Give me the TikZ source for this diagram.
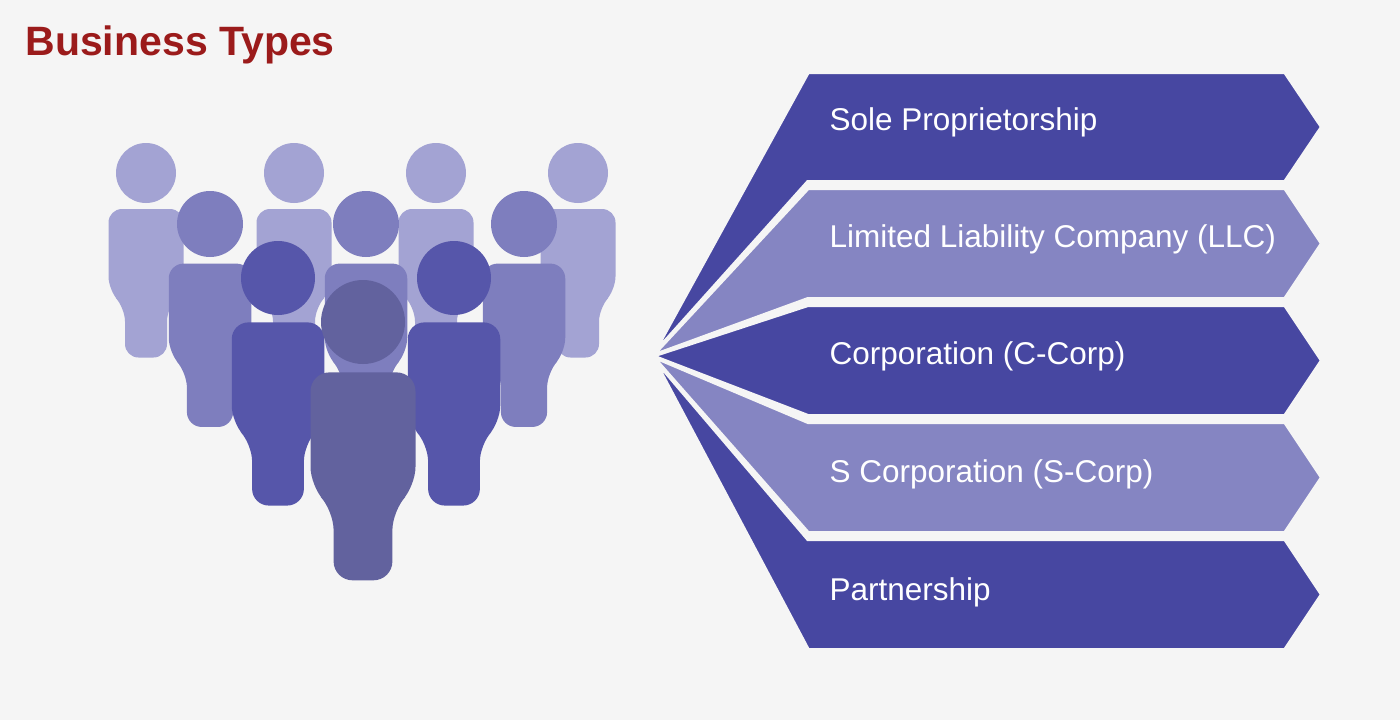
\documentclass[tikz,border=0pt]{standalone}
\usepackage{fontspec}
\setmainfont{Liberation Sans}
\usetikzlibrary{calc}
\definecolor{bgcol}{HTML}{F5F5F5}
\definecolor{titlecol}{HTML}{9B1B1B}
\definecolor{darkband}{HTML}{4747A1}
\definecolor{lightband}{HTML}{8585C2}
\definecolor{backp}{HTML}{A3A3D3}
\definecolor{midp}{HTML}{7E7EBE}
\definecolor{frontp}{HTML}{5656AA}
\definecolor{centp}{HTML}{62629E}

% person: x, head y, head radius, colour
\newcommand{\person}[4]{%
\fill[#4] (#1,#2) circle (#3);
\fill[#4,rounded corners=0.45*#3] ({#1-1.25*#3},{#2+1.2*#3}) -- ({#1+1.25*#3},{#2+1.2*#3})
  -- ({#1+1.25*#3},{#2+3.9*#3}) -- ({#1+0.7*#3},{#2+4.5*#3}) -- ({#1+0.7*#3},{#2+6.15*#3})
  -- ({#1-0.7*#3},{#2+6.15*#3}) -- ({#1-0.7*#3},{#2+4.5*#3}) -- ({#1-1.25*#3},{#2+3.9*#3}) -- cycle;}
% band: top y, bottom y, colour
\newcommand{\band}[3]{%
\fill[#3,draw=bgcol,line width=4pt,line join=miter] (apex) -- (808,#1) -- (1285,#1) -- (1322,{(#1+#2)/2}) -- (1285,#2) -- (808,#2) -- cycle;}

\begin{document}
\begin{tikzpicture}[x=1pt,y=-1pt,
  bandtext/.style={anchor=west,text=white,font=\fontsize{31.5}{38}\selectfont},
  title/.style={anchor=west,text=titlecol,font=\bfseries\fontsize{41}{48}\selectfont}]

\fill[bgcol] (0,0) rectangle (1400,720);
\useasboundingbox (0,0) rectangle (1400,720);

\node (title) at (22,45)[title] {Business Types};

% crowd
\person{146}{173}{30}{backp}
\person{294}{173}{30}{backp}
\person{436}{173}{30}{backp}
\person{578}{173}{30}{backp}
\person{210}{224}{33}{midp}
\person{366}{224}{33}{midp}
\person{524}{224}{33}{midp}
\person{278}{278}{37}{frontp}
\person{454}{278}{37}{frontp}
\person{363}{322}{42}{centp}

% bands
\coordinate (apex) at (652,356);
\band{72}{182}{darkband}
\band{188}{299}{lightband}
\band{305}{416}{darkband}
\band{422}{533}{lightband}
\band{539}{650}{darkband}

\node (sole) at (826,122)[bandtext] {Sole Proprietorship};
\node (llc) at (826,239)[bandtext] {Limited Liability Company (LLC)};
\node (ccorp) at (826,356)[bandtext] {Corporation (C-Corp)};
\node (scorp) at (826,474)[bandtext] {S Corporation (S-Corp)};
\node (partner) at (826,592)[bandtext] {Partnership};
\end{tikzpicture}
\end{document}
